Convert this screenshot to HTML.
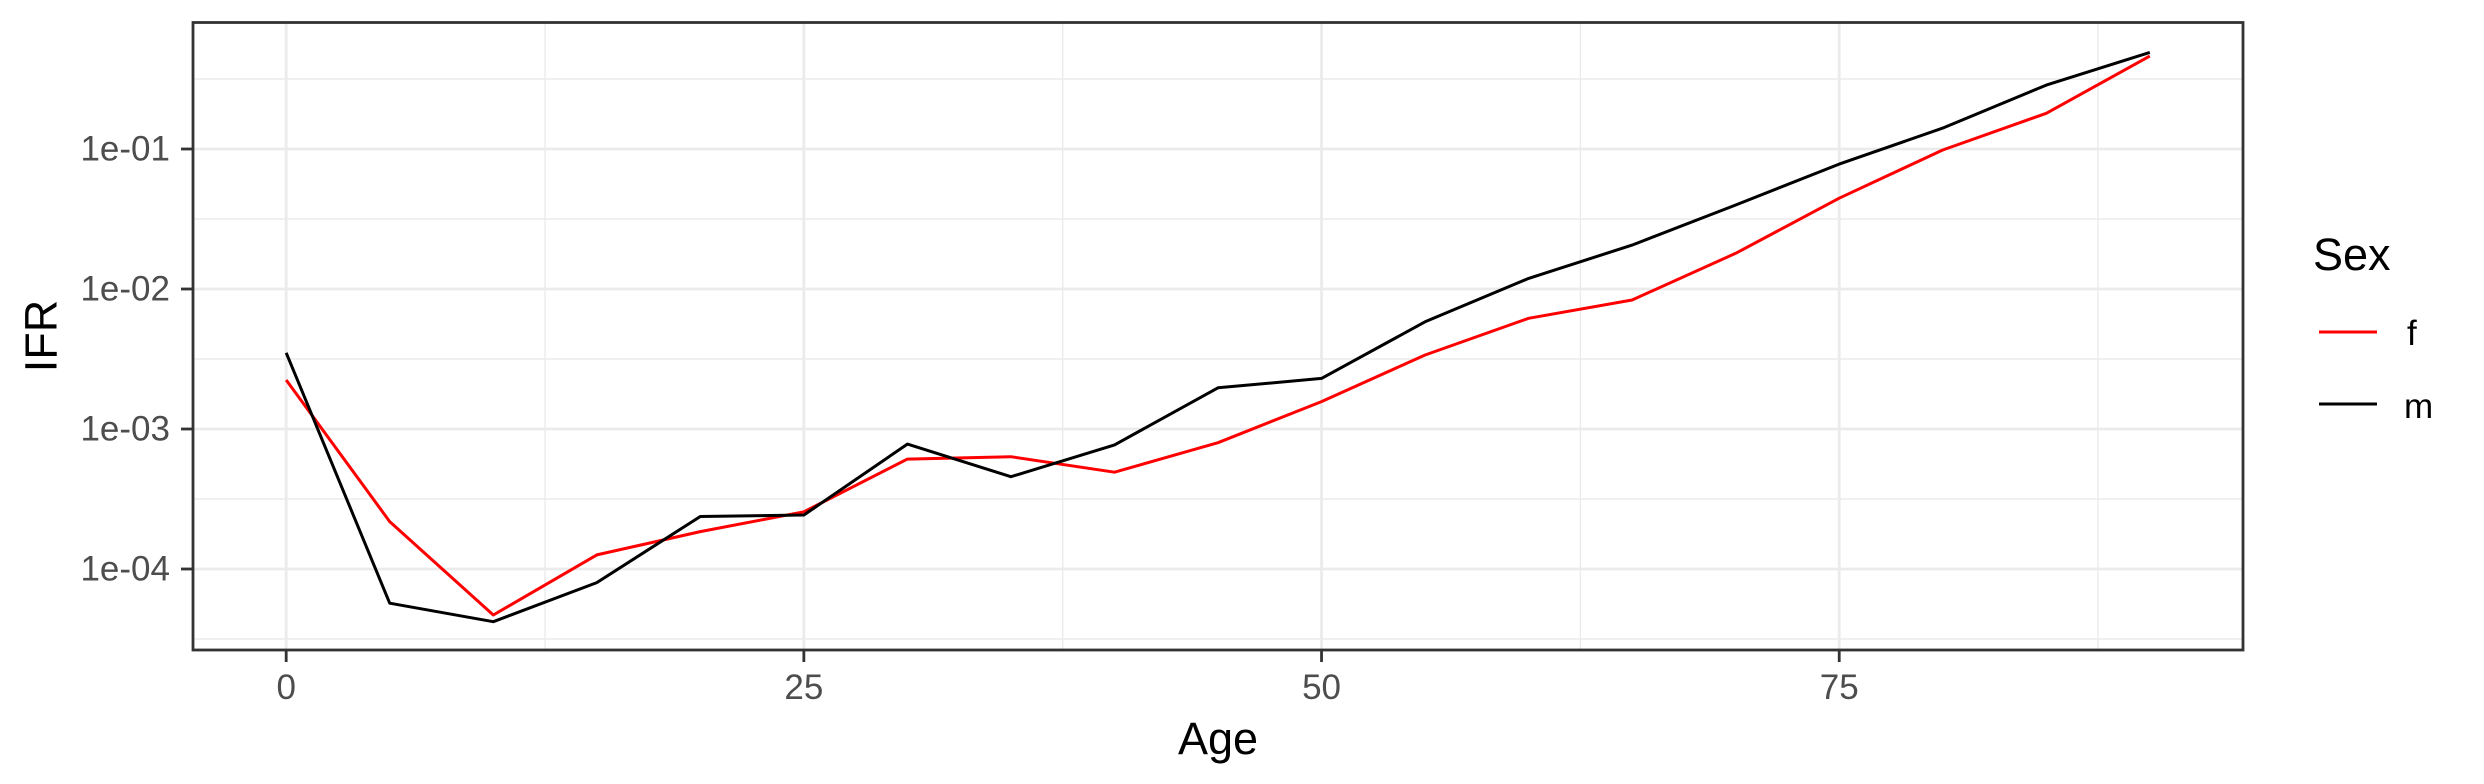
<!DOCTYPE html>
<html><head><meta charset="utf-8"><style>
html,body{margin:0;padding:0;background:#fff;}
svg{display:block;font-family:"Liberation Sans",Arial,sans-serif;}
</style></head><body>
<svg id="chart" width="2484" height="784" viewBox="0 0 2484 784">
<rect x="0" y="0" width="2484" height="784" fill="#fff"/>
<g id="grid"></g>
<g id="series"></g>
<rect x="193" y="22.5" width="2050" height="627.5" fill="none" stroke="#333" stroke-width="2.8"/>
<g id="axes"></g>
<text x="41" y="336" font-size="45" fill="#000" text-anchor="middle" dominant-baseline="central" transform="rotate(-90 41 336)">IFR</text>
<text x="1218" y="754" font-size="45" fill="#000" text-anchor="middle">Age</text>
<g>
<text x="2313" y="270" font-size="45" fill="#000">Sex</text>
<line x1="2319" y1="332" x2="2377" y2="332" stroke="#FF0000" stroke-width="3"/>
<text x="2407" y="345" font-size="35" fill="#000">f</text>
<line x1="2319" y1="404" x2="2377" y2="404" stroke="#000" stroke-width="3"/>
<text x="2404" y="418" font-size="35" fill="#000">m</text>
</g>
</svg>
<script>
const ages = [0,5,10,15,20,25,30,35,40,45,50,55,60,65,70,75,80,85,90];
const ifrFemale = [2.24e-3,2.18e-4,4.69e-5,1.26e-4,1.85e-4,2.56e-4,6.1e-4,6.34e-4,4.91e-4,7.98e-4,1.57e-3,3.38e-3,6.18e-3,8.34e-3,1.8e-2,4.45e-2,9.84e-2,1.8e-1,4.61e-1];
const ifrMale = [3.5e-3,5.7e-5,4.2e-5,8.0e-5,2.37e-4,2.43e-4,7.8e-4,4.56e-4,7.7e-4,1.97e-3,2.3e-3,5.83e-3,1.19e-2,2.06e-2,3.98e-2,7.8e-2,1.41e-1,2.86e-1,4.9e-1];
const xTicks = [0,25,50,75];
const xMinor = [12.5,37.5,62.5,87.5];
const yTicks = [1e-4,1e-3,1e-2,1e-1];
const yTickLabels = ["1e-04","1e-03","1e-02","1e-01"];
const yMinorExp = [-4.5,-3.5,-2.5,-1.5,-0.5];

const NS = "http://www.w3.org/2000/svg";
const PL = 193, PR = 2243, PT = 22.5, PB = 650;
const xMin = -4.5, xMax = 94.5;
const lMin = -4 - 81/140, lMax = -1 + 126.5/140;
function sx(v){ return PL + (v - xMin) / (xMax - xMin) * (PR - PL); }
function syL(l){ return PB - (l - lMin) / (lMax - lMin) * (PB - PT); }
function sy(v){ return syL(Math.log10(v)); }
function mk(tag, attrs, parent){
  const e = document.createElementNS(NS, tag);
  for (const k in attrs) e.setAttribute(k, attrs[k]);
  parent.appendChild(e);
  return e;
}
const grid = document.getElementById('grid');
const axes = document.getElementById('axes');
const series = document.getElementById('series');

yMinorExp.forEach(l => {
  const el = mk('line', {x1:PL, x2:PR, y1:syL(l), y2:syL(l), stroke:'#EBEBEB', 'stroke-width':1.4}, grid);
  
  
});
xMinor.forEach(v => {
  const el = mk('line', {x1:sx(v), x2:sx(v), y1:PT, y2:PB, stroke:'#EBEBEB', 'stroke-width':1.4}, grid);
  
  
});
yTicks.forEach((v, i) => {
  const y = sy(v);
  const g = mk('line', {x1:PL, x2:PR, y1:y, y2:y, stroke:'#EBEBEB', 'stroke-width':2.8}, grid);
  
  
  const t = mk('line', {x1:181, x2:PL, y1:y, y2:y, stroke:'#333', 'stroke-width':2.8}, axes);
  
  
  const lb = mk('text', {x:170, y:y, 'font-size':35, fill:'#4D4D4D', 'text-anchor':'end', 'dominant-baseline':'central'}, axes);
  lb.textContent = yTickLabels[i];
  
  
});
xTicks.forEach(v => {
  const x = sx(v);
  const g = mk('line', {x1:x, x2:x, y1:PT, y2:PB, stroke:'#EBEBEB', 'stroke-width':2.8}, grid);
  
  
  const t = mk('line', {x1:x, x2:x, y1:PB, y2:662, stroke:'#333', 'stroke-width':2.8}, axes);
  
  
  const lb = mk('text', {x:x, y:699, 'font-size':35, fill:'#4D4D4D', 'text-anchor':'middle'}, axes);
  lb.textContent = String(v);
  
  
});
function drawLine(vals, color, name){
  const pts = ages.map((a, i) => sx(a).toFixed(1) + ',' + sy(vals[i]).toFixed(1)).join(' ');
  const el = mk('polyline', {points:pts, fill:'none', stroke:color, 'stroke-width':3, 'stroke-linejoin':'round'}, series);
  
  
}
drawLine(ifrFemale, '#FF0000', 'line-f');
drawLine(ifrMale, '#000000', 'line-m');
</script>
</body></html>
